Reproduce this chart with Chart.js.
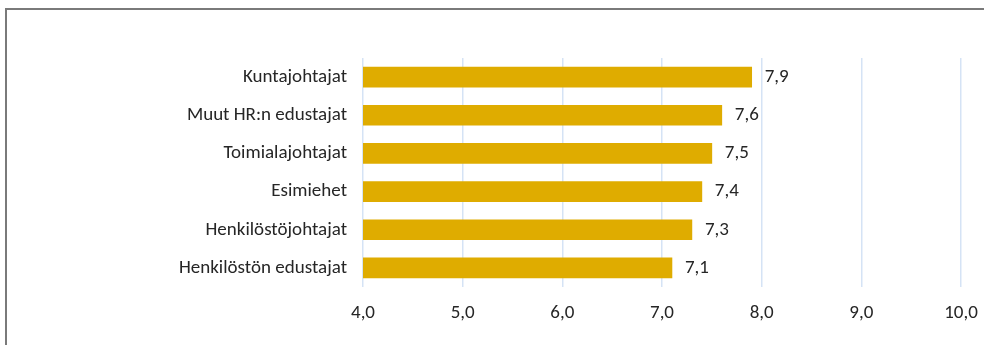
<!DOCTYPE html>
<html>
<head>
<meta charset="utf-8">
<script src="https://cdn.jsdelivr.net/npm/chart.js@4.4.1/dist/chart.umd.min.js"></script>
<style>
  html, body { margin: 0; padding: 0; background: #fff; }
  #wrap { position: relative; width: 984px; height: 345px; overflow: hidden; }
  #frame { position: absolute; left: 5px; top: 8px; width: 1000px; height: 400px;
           border-top: 2px solid #7a7a7a; border-left: 2px solid #7a7a7a; box-sizing: border-box; }
  canvas { position: absolute; left: 0; top: 0; }
</style>
</head>
<body>
<div id="wrap">
  <div id="frame"></div>
  <canvas id="c" width="984" height="345"></canvas>
</div>
<script>
const categories = ["Kuntajohtajat", "Muut HR:n edustajat", "Toimialajohtajat", "Esimiehet", "Henkilöstöjohtajat", "Henkilöstön edustajat"];
const values = [7.9, 7.6, 7.5, 7.4, 7.3, 7.1];
const xMin = 4.0, xMax = 10.0, xStep = 1.0;

const fontFamily = "Carlito, Calibri, Lato, 'Open Sans', sans-serif";
const fontSize = 19;
const fmt = v => Number(v).toFixed(1).replace('.', ',');

const valueLabels = {
  id: 'valueLabels',
  afterDatasetsDraw(chart) {
    const ctx = chart.ctx;
    const meta = chart.getDatasetMeta(0);
    ctx.save();
    ctx.font = fontSize + "px " + fontFamily;
    ctx.fillStyle = "#262626";
    ctx.textAlign = "left";
    ctx.textBaseline = "middle";
    meta.data.forEach((bar, i) => {
      ctx.fillText(fmt(values[i]), bar.x + 13, bar.y);
    });
    ctx.restore();
  }
};

new Chart(document.getElementById('c'), {
  type: 'bar',
  data: {
    labels: categories,
    datasets: [{
      data: values,
      backgroundColor: '#DFAC00',
      borderWidth: 0,
      barThickness: 20
    }]
  },
  options: {
    indexAxis: 'y',
    responsive: false,
    animation: false,
    layout: { padding: { top: 58, right: 23, left: 0, bottom: 0 } },
    plugins: { legend: { display: false }, tooltip: { enabled: false } },
    scales: {
      x: {
        min: xMin, max: xMax,
        ticks: { stepSize: xStep, callback: v => fmt(v), color: '#262626',
                 font: { family: fontFamily, size: fontSize }, padding: 15 },
        grid: { color: '#D5E3F5', lineWidth: 1.5, drawTicks: false },
        border: { display: false },
        afterFit: s => { s.height = 58; s.paddingLeft = 0; s.paddingRight = 0; }
      },
      y: {
        ticks: { color: '#262626', font: { family: fontFamily, size: fontSize }, padding: 16 },
        grid: { display: false, drawTicks: false },
        border: { display: false },
        afterFit: s => { s.width = 363; s.paddingTop = 0; s.paddingBottom = 0; }
      }
    }
  },
  plugins: [valueLabels]
});
</script>
</body>
</html>
